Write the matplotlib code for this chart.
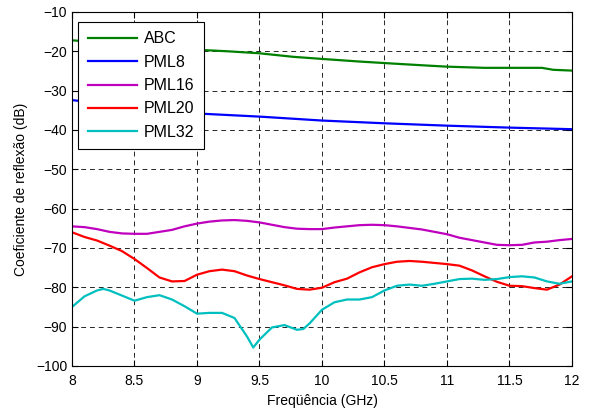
import matplotlib
matplotlib.use("Agg")
import matplotlib.pyplot as plt
import numpy as np

plt.rcParams['font.family'] = ['Liberation Sans', 'DejaVu Sans']

#-- data ---------------------------------------------------------------------
freq = np.round(np.arange(8.0, 12.01, 0.1), 2)

abc_f = [8.0, 8.25, 8.5, 8.75, 9.0, 9.25, 9.5, 9.77, 10.03, 10.3, 10.56,
         10.83, 11.0, 11.3, 11.76, 11.85, 12.0]
abc = [-17.2, -17.8, -18.4, -19.0, -19.6, -20.0, -20.5, -21.4, -22.0, -22.6,
       -23.1, -23.6, -23.9, -24.2, -24.2, -24.7, -24.9]

pml8_f = [8.0, 8.25, 8.5, 8.75, 9.0, 9.5, 10.0, 10.5, 11.0, 11.5, 12.0]
pml8 = [-32.4, -33.3, -34.2, -35.0, -35.8, -36.6, -37.6, -38.3, -38.9, -39.4, -39.8]

pml16 = [-64.5, -64.7, -65.2, -65.9, -66.3, -66.4, -66.4, -65.9, -65.4, -64.5,
         -63.8, -63.3, -63.0, -62.9, -63.1, -63.5, -64.1, -64.7, -65.1, -65.2,
         -65.2, -64.8, -64.5, -64.2, -64.1, -64.2, -64.5, -64.9, -65.3, -65.9,
         -66.5, -67.4, -68.0, -68.6, -69.2, -69.3, -69.2, -68.6, -68.4, -68.0,
         -67.7]

pml20 = [-66.0, -67.2, -68.1, -69.4, -70.8, -72.8, -75.1, -77.5, -78.5, -78.4,
         -76.8, -75.9, -75.5, -75.9, -77.0, -77.9, -78.7, -79.5, -80.4, -80.6,
         -80.1, -78.7, -77.8, -76.2, -74.9, -74.1, -73.5, -73.3, -73.5, -73.8,
         -74.1, -74.5, -75.7, -77.2, -78.6, -79.6, -79.7, -80.2, -80.6, -79.3,
         -77.2]

pml32_f = [8.0, 8.1, 8.2, 8.25, 8.3, 8.4, 8.5, 8.6, 8.7, 8.8, 8.9, 9.0, 9.1,
           9.2, 9.3, 9.4, 9.45, 9.5, 9.6, 9.7, 9.8, 9.85, 9.9, 10.0, 10.1, 10.2,
           10.3, 10.4, 10.5, 10.6, 10.7, 10.8, 10.9, 11.0, 11.1, 11.2, 11.3,
           11.4, 11.5, 11.6, 11.7, 11.8, 11.9, 12.0]
pml32 = [-85.0, -82.3, -80.8, -80.4, -80.8, -82.1, -83.4, -82.5, -82.0, -83.1,
         -84.8, -86.7, -86.5, -86.5, -87.8, -92.5, -95.3, -93.3, -90.2, -89.6,
         -90.8, -90.6, -89.2, -85.7, -83.8, -83.1, -83.1, -82.5, -80.8, -79.6,
         -79.3, -79.6, -79.1, -78.5, -77.9, -77.8, -78.1, -77.9, -77.4, -77.2,
         -77.5, -78.5, -79.1, -78.5]
#------------------------------------------------------------------------------

fig = plt.figure(figsize=(5.92, 4.12), dpi=100)
ax = fig.add_axes([0.1216, 0.1117, 0.8446, 0.8592])

lw = 1.6
ax.plot(abc_f, abc, color='#008000', lw=lw, label='ABC')
ax.plot(pml8_f, pml8, color='#0000ff', lw=lw, label='PML8')
ax.plot(freq, pml16, color='#bf00bf', lw=lw, label='PML16')
ax.plot(freq, pml20, color='#ff0000', lw=lw, label='PML20')
ax.plot(pml32_f, pml32, color='#00bfbf', lw=lw, label='PML32')

ax.set_xlim(8, 12)
ax.set_ylim(-100, -10)
xt = np.arange(8, 12.01, 0.5)
ax.set_xticks(xt)
ax.set_xticklabels([f"{v:g}" for v in xt])
ax.set_yticks(np.arange(-100, -9, 10))
ax.tick_params(direction='in', labelsize=10, length=4, top=True, right=True)
ax.tick_params(axis='x', pad=6)
ax.grid(True, color='black', linestyle=(0, (5, 4)), linewidth=0.7, alpha=0.85)

ax.set_xlabel('Freqüência (GHz)', fontsize=10, labelpad=4)
ax.set_ylabel('Coeficiente de reflexão (dB)', fontsize=10, labelpad=6)

#-- legend box placed at top-left, as in the reference
leg = ax.legend(loc='upper left', bbox_to_anchor=(0.012, 0.972),
                fontsize=11.5, handlelength=3.1, handletextpad=0.4,
                fancybox=False, framealpha=1, edgecolor='black',
                borderaxespad=0, borderpad=0.6, labelspacing=0.52)
leg.get_frame().set_linewidth(0.8)

fig.savefig('out.png', dpi=100)
